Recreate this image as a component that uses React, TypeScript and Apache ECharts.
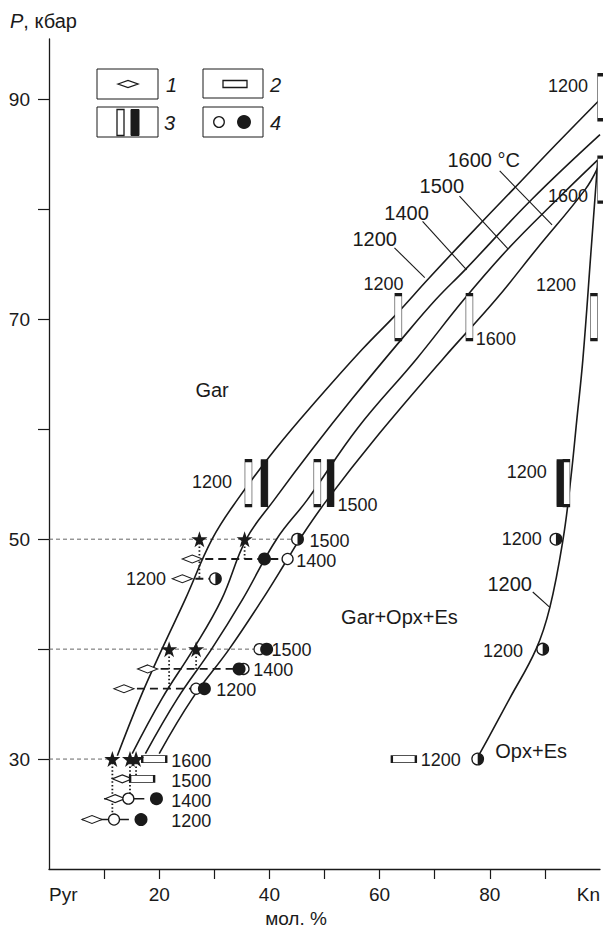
import React, { useEffect, useRef } from 'react';
import * as echarts from 'echarts';

// ---- isotherms (X = mol.% Kn, P = kbar) ----
const isotherm1200 = [[12.4,30.3],[16.5,35.5],[20.5,40],[24.7,44.5],[29.6,50],[34.2,53.6],[41.1,58.2],[48.7,62.7],[56.9,67.3],[63.1,70.5],[68.7,73.6],[75.6,77.3],[84.2,81.8],[92,85.9],[100,90]];
const isotherm1400 = [[15.1,30.5],[20.5,35.5],[26.2,40],[31.3,44.5],[35.8,50],[40.9,53.6],[47.8,58.2],[54.9,62.7],[64,68.2],[70.2,71.8],[75.5,74.5],[87.6,80.9],[100,86.8]];
const isotherm1500 = [[17.5,30.5],[23.3,35.5],[29.5,40],[35.1,44.5],[41.3,50],[46.9,53.6],[56,60.1],[66.7,66.4],[75.3,71.8],[83.3,76.4],[92.2,80.9],[99.6,84.5]];
const isotherm1600 = [[20,30.5],[26,35.5],[32.7,40],[38.7,44.5],[43.3,48.2],[45.5,50],[50.5,53.6],[59.1,59.1],[71.5,66.4],[81.1,71.8],[88.5,76.4],[97.3,81.8],[99.6,83.8]];
const opxBoundary1200 = [[77.6,30],[79.6,31.8],[83.6,35.5],[88.4,40],[90.9,43.8],[93.3,50],[94.7,55.5],[95.8,60.9],[96.9,66.4],[98.4,76.4],[99.6,84.5]];

// ---- symbols ----
const stars = [[27.3,50],[35.5,50],[21.8,40],[26.7,40],[11.5,30],[14.7,30],[15.8,30]];
const diamonds = [[26,48.2],[24.2,46.4],[17.9,38.2],[13.6,36.4],[13.3,28.2],[12,26.4],[7.8,24.5]];
const flatRects = [[19.1,30],[16.9,28.2],[64.4,30]];
const whiteBars = [[36.2,55.1],[48.7,55.1],[63.4,70.2],[76.3,70.2],[98.9,70.2],[100.2,90.2],[100.2,82.7],[93.9,55.1]];
const blackBars = [[39.1,55.1],[51.1,55.1],[92.8,55.1]];
const openCircles = [[43.3,48.2],[26.7,36.4],[35.3,38.2],[38.2,40],[14.4,26.4],[11.8,24.5]];
const filledCircles = [[39.1,48.2],[28.2,36.4],[34.5,38.2],[39.5,40],[19.5,26.4],[16.7,24.5]];
const halfCircles = [[45.1,50],[30.2,46.4],[77.8,30],[92,50],[89.6,40]];

// ---- connecting lines ----
const guideLines = [[[0,50],[45.1,50]],[[0,40],[38,40]],[[0,30],[11.5,30]]];
const tieLines = [[[26,48.2],[43.3,48.2]],[[24.2,46.4],[30.2,46.4]],[[17.9,38.2],[34.5,38.2]],[[13.6,36.4],[26.7,36.4]]];
const shortLines = [[[10,26.4],[17.3,26.4]],[[6,24.5],[14.5,24.5]]];
const dropLines = [[[27.3,50],[27.3,46.4]],[[35.5,50],[35.5,48.2]],[[21.8,40],[21.8,36.4]],[[26.7,40],[26.7,38.2]],[[11.5,30],[11.5,24.5]],[[14.7,30],[14.7,26.4]],[[15.8,30],[15.8,28.2]]];
const leaderLines = [[[62.7,76.5],[68.2,73.8]],[[67.8,78.9],[75.8,74.5]],[[74.5,81.2],[83.3,76.4]],[[81.8,83.5],[91.3,78.6]],[[87.8,45.2],[90.9,43.8]]];

// ---- texts ----
const curveLabels: [number, number, string][] = [
  [59.1,77.3,'1200'],[64.9,79.7,'1400'],[71.3,82.1,'1500'],[78.9,84.5,'1600 °C'],[83.6,45.9,'1200'],
];
const regionLabels: [number, number, string][] = [
  [29.6,63.6,'Gar'],[63.6,42.9,'Gar+Opx+Es'],[87.5,30.7,'Opx+Es'],
];
const pointLabels: [number, number, string][] = [
  [94.2,91.2,'1200'],[94.2,81.2,'1600'],[60.7,73.2,'1200'],[81.1,68.2,'1600'],[92,73.1,'1200'],
  [29.6,55.2,'1200'],[56,53.1,'1500'],[86.7,56.1,'1200'],[85.8,50,'1200'],
  [50.9,49.8,'1500'],[48.5,48,'1400'],[17.6,46.4,'1200'],
  [44,39.9,'1500'],[40.7,38.1,'1400'],[34,36.3,'1200'],[82.4,39.8,'1200'],
  [25.8,29.8,'1600'],[25.8,28,'1500'],[25.8,26.2,'1400'],[25.8,24.4,'1200'],[71.1,29.9,'1200'],
];
const xTickValues = [10,20,30,40,50,60,70,80,90];
const xLabelValues = [0,20,40,60,80,100];
const yTickValues = [30,40,50,60,70,80,90];
const yLabelValues = [30,50,70,90];

const FONT = '"Liberation Sans", Arial, Helvetica, sans-serif';
const INK = '#1a1a1a';
const STAR = 'path://M12,0 L14.9,8.6 L24,8.6 L16.6,14 L19.4,22.8 L12,17.4 L4.6,22.8 L7.4,14 L0,8.6 L9.1,8.6 Z';

function segSeries(segs: number[][][], lineStyle: any, z: number) {
  return segs.map((s) => ({
    type: 'line', data: s, symbol: 'none', silent: true, z,
    lineStyle,
  }));
}

function textSeries(items: [number, number, string][], size: number) {
  return {
    type: 'custom', z: 10, silent: true,
    data: items.map((t) => [t[0], t[1]]),
    renderItem: (params: any, api: any) => {
      const pt = api.coord([api.value(0), api.value(1)]);
      return {
        type: 'text', x: pt[0], y: pt[1],
        style: { text: items[params.dataIndex][2], fontSize: size, fontFamily: FONT, fill: INK, align: 'center', verticalAlign: 'middle' },
      };
    },
  };
}

export default function App() {
  const ref = useRef<HTMLDivElement>(null);
  useEffect(() => {
    if (!ref.current) return;
    const chart = echarts.init(ref.current, null, { renderer: 'svg' });
    const curveStyle = { color: INK, width: 1.6 };
    const curves = [isotherm1200, isotherm1400, isotherm1500, isotherm1600, opxBoundary1200].map((d) => ({
      type: 'line', data: d, symbol: 'none', smooth: 0.4, silent: true, z: 2,
      lineStyle: curveStyle,
    }));
    const solid = { opacity: 1 };
    const option: any = {
      animation: false,
      grid: { left: 49, right: 3, top: 39, bottom: 64 },
      xAxis: {
        type: 'value', min: 0, max: 100, interval: 10,
        axisLine: { onZero: false, lineStyle: { color: INK, width: 1.3 } },
        axisTick: { show: true, length: 10, customValues: xTickValues, lineStyle: { color: INK, width: 1.2 } },
        axisLabel: {
          customValues: xLabelValues, margin: 16, fontSize: 19, color: INK, fontFamily: FONT,
          alignMinLabel: 'left', alignMaxLabel: 'right',
          formatter: (v: number) => (v === 0 ? 'Pyr' : v === 100 ? 'Kn' : v % 20 === 0 ? String(v) : ''),
        },
        splitLine: { show: false },
      },
      yAxis: {
        type: 'value', min: 20, max: 95.5, interval: 10,
        axisLine: { show: true, onZero: false, lineStyle: { color: INK, width: 1.3 } },
        axisTick: { show: true, length: 11, customValues: yTickValues, lineStyle: { color: INK, width: 1.2 } },
        axisLabel: {
          customValues: yLabelValues, margin: 19, fontSize: 19, color: INK, fontFamily: FONT,
          formatter: (v: number) => (yLabelValues.indexOf(v) >= 0 ? String(v) : ''),
        },
        splitLine: { show: false },
      },
      series: [
        ...segSeries(guideLines, { color: '#555', width: 0.9, type: [4, 3] }, 1),
        ...curves,
        ...segSeries(leaderLines, { color: INK, width: 1.1 }, 2),
        ...segSeries(tieLines, { color: INK, width: 1.8, type: [8, 5] }, 3),
        ...segSeries(shortLines, { color: INK, width: 1.5 }, 3),
        ...segSeries(dropLines, { color: INK, width: 1.8, type: [1.5, 2.2] }, 3),
        { type: 'scatter', data: diamonds, symbol: 'diamond', symbolSize: [20, 8], z: 4, silent: true,
          itemStyle: { ...solid, color: '#fff', borderColor: INK, borderWidth: 1.3 } },
        { type: 'scatter', data: flatRects, symbol: 'rect', symbolSize: [24, 7], z: 4, silent: true,
          itemStyle: { ...solid, color: '#fff', borderColor: INK, borderWidth: 1.3 } },
        { type: 'scatter', data: whiteBars, symbol: 'rect', symbolSize: [7, 45], z: 4, silent: true, clip: false,
          itemStyle: { ...solid, color: '#fff', borderColor: INK, borderWidth: 1.3 } },
        { type: 'scatter', data: blackBars, symbol: 'rect', symbolSize: [7, 45], z: 4, silent: true,
          itemStyle: { ...solid, color: INK, borderColor: INK, borderWidth: 1 } },
        { type: 'scatter', data: openCircles, symbol: 'circle', symbolSize: 11, z: 5, silent: true,
          itemStyle: { ...solid, color: '#fff', borderColor: INK, borderWidth: 1.3 } },
        { type: 'scatter', data: filledCircles, symbol: 'circle', symbolSize: 13, z: 6, silent: true,
          itemStyle: { ...solid, color: INK } },
        { type: 'scatter', data: stars, symbol: STAR, symbolSize: 16, z: 6, silent: true,
          itemStyle: { ...solid, color: INK } },
        {
          type: 'custom', z: 6, silent: true, data: halfCircles,
          renderItem: (params: any, api: any) => {
            const pt = api.coord([api.value(0), api.value(1)]);
            return {
              type: 'group', children: [
                { type: 'circle', shape: { cx: pt[0], cy: pt[1], r: 5.8 }, style: { fill: '#fff', stroke: INK, lineWidth: 1.3 } },
                { type: 'sector', shape: { cx: pt[0], cy: pt[1], r: 5.8, r0: 0, startAngle: -Math.PI / 2, endAngle: Math.PI / 2, clockwise: true }, style: { fill: INK } },
              ],
            };
          },
        },
        textSeries(curveLabels, 20),
        textSeries(regionLabels, 20),
        textSeries(pointLabels, 18),
      ],
      graphic: [
        { type: 'text', left: 10, top: 11, style: { rich: { a: { fontStyle: 'italic', fontSize: 20, fontFamily: FONT, fill: INK }, b: { fontSize: 20, fontFamily: FONT, fill: INK } }, text: '{a|P}{b|, кбар}' } },
        { type: 'text', x: 296, y: 918, style: { text: 'мол. %', fontSize: 19, fontFamily: FONT, fill: INK, align: 'center', verticalAlign: 'middle' } },
        // legend
        { type: 'rect', shape: { x: 97, y: 69, width: 61, height: 30 }, style: { fill: '#fff', stroke: INK, lineWidth: 1 } },
        { type: 'polygon', shape: { points: [[118, 84], [128, 80.5], [138, 84], [128, 87.5]] }, style: { fill: '#fff', stroke: INK, lineWidth: 1.3 } },
        { type: 'text', x: 166, y: 85, style: { text: '1', fontStyle: 'italic', fontSize: 20, fontFamily: FONT, fill: INK, verticalAlign: 'middle' } },
        { type: 'rect', shape: { x: 203, y: 69, width: 60, height: 29 }, style: { fill: '#fff', stroke: INK, lineWidth: 1 } },
        { type: 'rect', shape: { x: 223, y: 80.5, width: 24, height: 7 }, style: { fill: '#fff', stroke: INK, lineWidth: 1.3 } },
        { type: 'text', x: 270, y: 85, style: { text: '2', fontStyle: 'italic', fontSize: 20, fontFamily: FONT, fill: INK, verticalAlign: 'middle' } },
        { type: 'rect', shape: { x: 97, y: 107, width: 61, height: 30 }, style: { fill: '#fff', stroke: INK, lineWidth: 1 } },
        { type: 'rect', shape: { x: 117, y: 109.5, width: 7, height: 26 }, style: { fill: '#fff', stroke: INK, lineWidth: 1.3 } },
        { type: 'rect', shape: { x: 131, y: 109.5, width: 8, height: 26 }, style: { fill: INK, stroke: INK, lineWidth: 1 } },
        { type: 'text', x: 164, y: 123, style: { text: '3', fontStyle: 'italic', fontSize: 20, fontFamily: FONT, fill: INK, verticalAlign: 'middle' } },
        { type: 'rect', shape: { x: 203, y: 107, width: 60, height: 30 }, style: { fill: '#fff', stroke: INK, lineWidth: 1 } },
        { type: 'circle', shape: { cx: 219, cy: 122, r: 5.3 }, style: { fill: '#fff', stroke: INK, lineWidth: 1.3 } },
        { type: 'circle', shape: { cx: 244, cy: 122, r: 7 }, style: { fill: INK } },
        { type: 'text', x: 270, y: 123, style: { text: '4', fontStyle: 'italic', fontSize: 20, fontFamily: FONT, fill: INK, verticalAlign: 'middle' } },
      ],
    };
    chart.setOption(option);
    return () => chart.dispose();
  }, []);
  return <div ref={ref} style={{ position: 'fixed', left: 0, top: 0, width: 603, height: 933, background: '#fff' }} />;
}
